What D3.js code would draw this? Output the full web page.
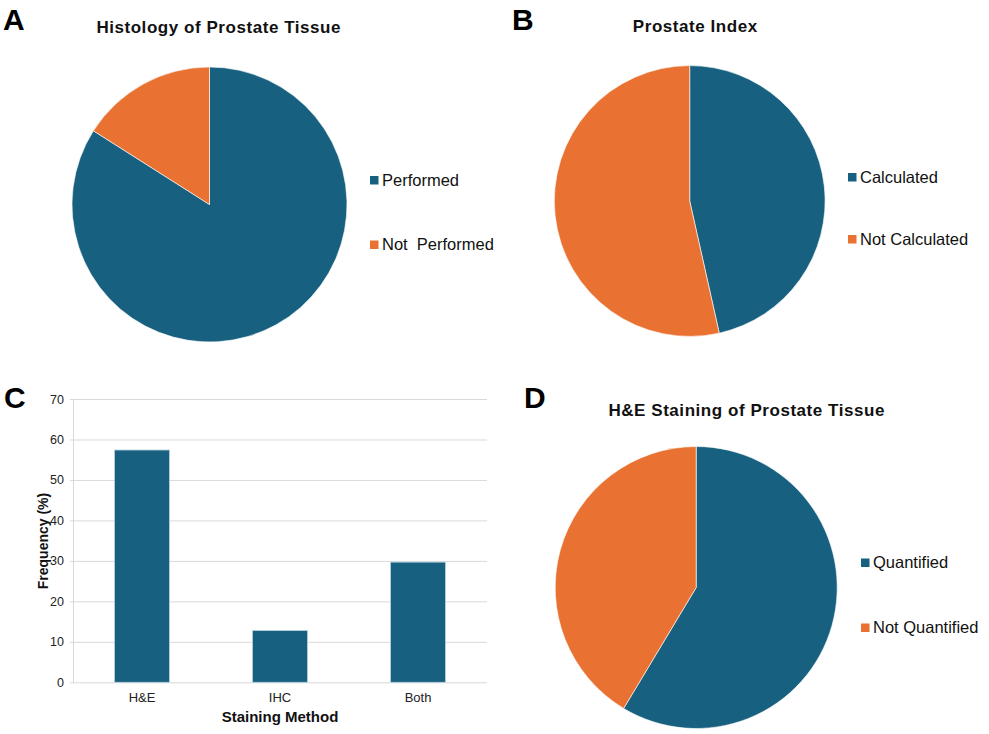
<!DOCTYPE html>
<html><head><meta charset="utf-8">
<script src="https://cdn.jsdelivr.net/npm/d3@7"></script>
<style>body{margin:0;background:#fff}svg{display:block}text{font-family:"Liberation Sans",Arial,sans-serif;fill:#111}</style>
</head><body><svg id="c" width="989" height="734"></svg>
<script>
const blue = "#17607f", orange = "#e97232";
// Panel A
const histLabels = ["Performed", "Not  Performed"];
const histValues = [84, 16];
// Panel B
const indexLabels = ["Calculated", "Not Calculated"];
const indexValues = [46.5, 53.5];
// Panel C
const stainCategories = ["H&E", "IHC", "Both"];
const stainValues = [57.4, 12.8, 29.7];
const yTicks = [0, 10, 20, 30, 40, 50, 60, 70];
// Panel D
const heLabels = ["Quantified", "Not Quantified"];
const heValues = [58.6, 41.4];

const svg = d3.select("#c");
svg.append("rect").attr("width",989).attr("height",734).attr("fill","#fff");

function letter(t,x,y){ svg.append("text").attr("x",x).attr("y",y).attr("font-size",30).attr("font-weight","bold").text(t).style("fill","#000"); }
letter("A",3,30); letter("B",512,30); letter("C",4,408); letter("D",524,408);

function title(t,cx,by){ svg.append("text").attr("x",cx).attr("y",by).attr("text-anchor","middle").attr("font-size",17).attr("font-weight","bold").attr("letter-spacing",0.55).text(t); }

function pie(labels, values, cx, cy, r, lx, ly){
  const g = svg.append("g").attr("transform",`translate(${cx},${cy})`);
  const arcs = d3.pie().sort(null).startAngle(0).endAngle(2*Math.PI)(values);
  const arc = d3.arc().innerRadius(0).outerRadius(r);
  const col = d3.scaleOrdinal().domain(labels).range([blue, orange]);
  g.selectAll("path").data(arcs).join("path").attr("d",arc).attr("fill",(d,i)=>col(labels[i])).attr("stroke","#fff").attr("stroke-width",0.6);
  const lg = svg.append("g");
  labels.forEach((l,i)=>{
    lg.append("rect").attr("x",lx).attr("y",ly[i]-9.5).attr("width",8.5).attr("height",8.5).attr("fill",col(l));
    lg.append("text").attr("x",lx+12).attr("y",ly[i]).attr("font-size",16.5).style("white-space","pre").text(l);
  });
}

title("Histology of Prostate Tissue",218.7,33);
pie(histLabels, histValues, 209.5, 204.5, 137.5, 370, [185.5, 250]);

title("Prostate Index",695.3,31.5);
pie(indexLabels, indexValues, 689.7, 201, 135.4, 848, [182.5, 244.5]);

title("H&E Staining of Prostate Tissue",746.7,415.5);
pie(heLabels, heValues, 696.2, 587.5, 141, 861, [568, 633]);

// Panel C bar chart
const x0 = 73, x1 = 487, yTop = 399, yBot = 682.3;
const x = d3.scaleBand().domain(stainCategories).range([x0,x1]).paddingInner(0.6).paddingOuter(0.3);
const y = d3.scaleLinear().domain([0,70]).range([yBot,yTop]);
const ya = svg.append("g").attr("transform",`translate(${x0},0)`)
  .call(d3.axisLeft(y).tickValues(yTicks).tickSizeInner(-(x1-x0)).tickSizeOuter(0).tickPadding(9));
ya.attr("font-size",null);
ya.select(".domain").attr("stroke","#d9d9d9");
ya.selectAll(".tick line").attr("stroke","#d9d9d9").attr("x1",-3);
ya.selectAll(".tick text").style("font-size","12.5px").style("fill","#222");
svg.append("g").selectAll("rect").data(stainValues).join("rect")
  .attr("x",(d,i)=>x(stainCategories[i])).attr("width",x.bandwidth())
  .attr("y",d=>y(d)).attr("height",d=>yBot-y(d))
  .attr("fill",blue).attr("stroke","#bcd6e3").attr("stroke-width",0.8);
const xa = svg.append("g").attr("transform",`translate(0,${yBot})`)
  .call(d3.axisBottom(x).tickSize(0).tickPadding(10));
xa.attr("font-size",null);
xa.select(".domain").remove();
xa.selectAll(".tick text").style("font-size","13px").style("fill","#222");
svg.append("text").attr("x",280).attr("y",722).attr("text-anchor","middle").attr("font-size",15).attr("font-weight","bold").text("Staining Method");
svg.append("text").attr("transform","translate(48,541) rotate(-90)").attr("text-anchor","middle").attr("font-size",14).attr("font-weight","bold").text("Frequency (%)");
</script></body></html>
